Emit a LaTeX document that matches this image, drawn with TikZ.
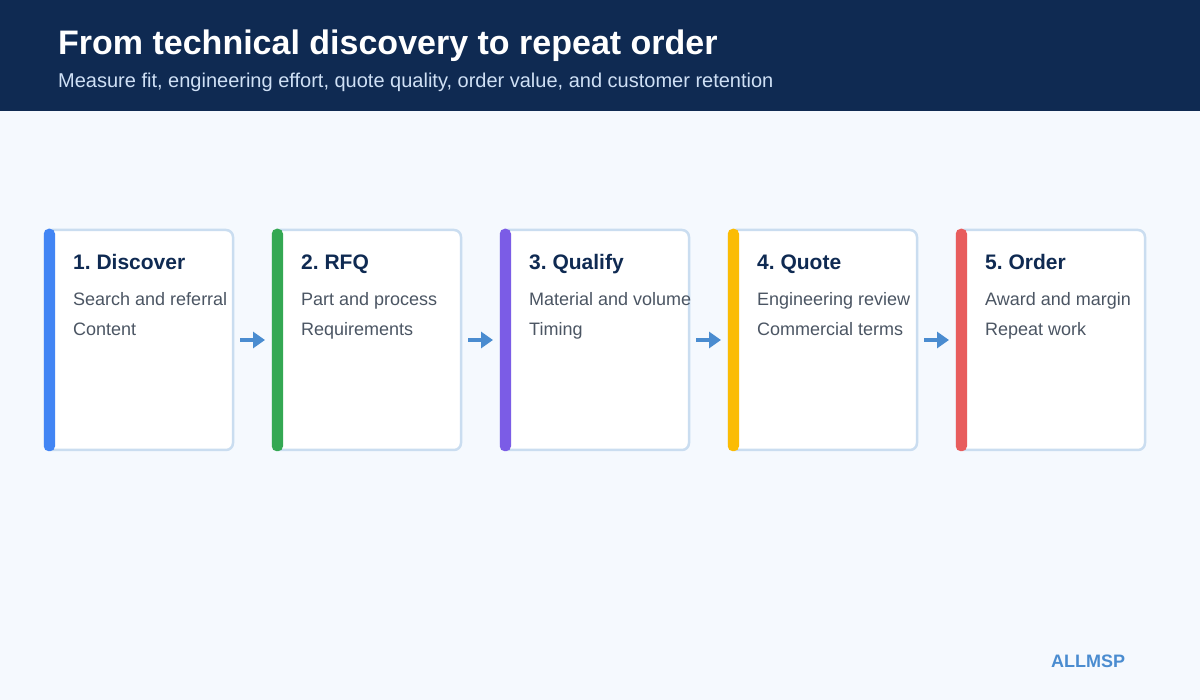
\documentclass[tikz,border=0pt]{standalone}
\usepackage{fontspec}
\setmainfont{Liberation Sans}
\usetikzlibrary{arrows.meta}
\frenchspacing
\definecolor{navy}{HTML}{0F2A52}
\definecolor{bg}{HTML}{F5F9FE}
\definecolor{subt}{HTML}{CFE0F5}
\definecolor{cardborder}{HTML}{CADDF0}
\definecolor{bodytext}{HTML}{4B5563}
\definecolor{arrowc}{HTML}{4A8CD0}
\definecolor{cblue}{HTML}{4285F4}
\definecolor{cgreen}{HTML}{34A853}
\definecolor{cpurple}{HTML}{7B5CE6}
\definecolor{cyellow}{HTML}{FBBC04}
\definecolor{cred}{HTML}{E85D5D}
\tikzset{
  card/.style={draw=cardborder, line width=2.5pt, fill=white, rounded corners=7pt,
    minimum width=188pt, minimum height=220pt, inner sep=0pt, outer sep=0pt},
  cardtitle/.style={anchor=base west, inner sep=0pt, text=navy, font=\fontsize{21}{25}\selectfont\bfseries},
  cardbody/.style={anchor=base west, inner sep=0pt, text=bodytext, font=\fontsize{18}{21}\selectfont},
  flow/.style={draw=arrowc, line width=4.5pt, -{Triangle[length=12pt,width=16pt]}, shorten <=7pt, shorten >=8pt}
}
\begin{document}
\begin{tikzpicture}[x=1pt,y=-1pt]
\useasboundingbox (0,0) rectangle (1200,700);
\fill[bg] (0,0) rectangle (1200,700);
\fill[navy] (0,0) rectangle (1200,111);
\node[anchor=base west, inner sep=0pt, text=white, font=\fontsize{34}{40}\selectfont\bfseries] (title) at (58,55) {From technical discovery to repeat order};
\node[anchor=base west, inner sep=0pt, text=subt, font=\fontsize{20}{24}\selectfont] (subtitle) at (58,88) {Measure fit, engineering effort, quote quality, order value, and customer retention};
\foreach \i/\x/\c/\t/\a/\b in {1/45/cblue/1. Discover/Search and referral/Content,
  2/273/cgreen/2. RFQ/Part and process/Requirements,
  3/501/cpurple/3. Qualify/Material and volume/Timing,
  4/729/cyellow/4. Quote/Engineering review/Commercial terms,
  5/957/cred/5. Order/Award and margin/Repeat work} {
  \node[card] (c\i) at (\x+94,340) {};
  \fill[\c, rounded corners=5pt] (\x-1.25,228.75) rectangle (\x+10,451.25);
  \node[cardtitle] (t\i) at (\x+28,270) {\t};
  \node[cardbody] (a\i) at (\x+28,306) {\a};
  \node[cardbody] (b\i) at (\x+28,336) {\b};
}
\foreach \i/\j in {1/2,2/3,3/4,4/5} {
  \draw[flow] (c\i.east) -- (c\j.west);
}
\node[anchor=base west, inner sep=0pt, text=arrowc, font=\fontsize{18}{21}\selectfont\bfseries] (brand) at (1051,667) {ALLMSP};
\end{tikzpicture}
\end{document}
